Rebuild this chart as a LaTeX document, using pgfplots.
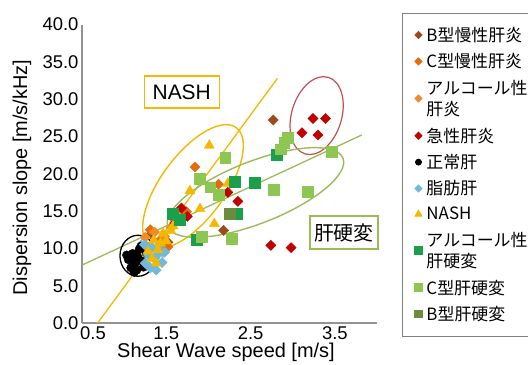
\documentclass[border=0pt]{standalone}
\usepackage{fontspec}
\setmainfont{Liberation Sans}
\newfontfamily\jp{Noto Sans CJK JP}
\usepackage{pgfplots}
\pgfplotsset{compat=1.18}
\definecolor{cBhep}{HTML}{9C4A1A}
\definecolor{cChep}{HTML}{E46C0A}
\definecolor{cAhep}{HTML}{F08C28}
\definecolor{cAcute}{HTML}{C00000}
\definecolor{cFat}{HTML}{70B8DC}
\definecolor{cNash}{HTML}{F5B800}
\definecolor{cAcir}{HTML}{1AA04A}
\definecolor{cCcir}{HTML}{8DC652}
\definecolor{cBcir}{HTML}{6E8B3D}
\definecolor{cGline}{HTML}{9BBB59}
\definecolor{cRell}{HTML}{C0504D}
\pgfplotsset{
  diam/.style={only marks, mark=square*, mark size=3.6bp, mark options={rotate=45, draw=#1, fill=#1}},
  sq/.style={only marks, mark=square*, mark size=5.4bp, mark options={draw=#1, fill=#1}},
}
\begin{document}
\begin{tikzpicture}
\begin{axis}[
  scale only axis, width=295bp, height=298.5bp,
  xmin=0.5, xmax=4.0, ymin=0, ymax=40,
  axis x line=bottom, axis y line=left,
  axis line style={-, draw=gray!85, line width=1.3bp},
  xtick={0.63,1.5,2.5,3.5}, xticklabels={0.5,1.5,2.5,3.5},
  ytick={0,5,10,15,20,25,30,35,40},
  major tick length=0pt,
  /pgf/number format/fixed, /pgf/number format/fixed zerofill,
  /pgf/number format/precision=1, /pgf/number format/assume math mode=true,
  tick label style={font=\fontsize{18.5}{20}\selectfont},
  xlabel={Shear Wave speed [m/s]}, ylabel={Dispersion slope [m/s/kHz]},
  every axis x label/.style={at={(axis description cs:0.488,-0.057)}, anchor=north, font=\fontsize{20}{22}\selectfont},
  every axis y label/.style={at={(axis description cs:-0.2034,0.487)}, rotate=90, anchor=center, font=\fontsize{20}{22}\selectfont},
  clip=false,
  legend cell align=left,
  legend image code/.code={\path[draw=none, fill=none] (-6bp,0bp) -- (6bp,0bp); \path[#1, draw=none, every mark/.append style={scale=0.7}] plot coordinates {(0bp,0bp)};},
  legend style={at={(axis description cs:1.085,1.0395)}, anchor=north west,
    draw=gray, line width=0.8bp, font=\jp\fontsize{17}{21.5}\selectfont,
    cells={anchor=west, align=left}, nodes={inner ysep=4bp, inner xsep=2bp},
    row sep=2.7bp, inner xsep=10bp, inner ysep=10bp},
]
\addplot[diam=cBhep] coordinates {(2.77,27.2) (2.18,12.4) (1.32,11.9) (1.70,14.9) (1.52,10.8)};
\addlegendentry{B型慢性肝炎}
\addplot[diam=cChep] coordinates {(1.84,20.9) (2.12,18.6) (1.74,14.9) (1.52,10.2) (1.31,12.5) (1.42,11.0) (1.60,13.8) (1.28,10.2)};
\addlegendentry{C型慢性肝炎}
\addplot[diam=cAhep] coordinates {(1.48,11.6) (1.36,12.2) (1.65,14.3) (1.44,9.6) (1.56,12.8) (1.25,11.5)};
\addlegendentry{アルコール性\\肝炎}
\addplot[diam=cAcute] coordinates {(3.11,25.5) (3.24,27.4) (3.39,27.4) (3.30,25.2) (2.35,16.3) (2.74,10.4) (2.98,10.1) (2.23,17.5) (1.68,15.4) (1.60,13.4) (1.75,14.3)};
\addlegendentry{急性肝炎}
\addplot[only marks, mark=*, mark size=4.3bp, mark options={draw=black, fill=black}] coordinates {(1.05,8.5) (1.08,7.4) (1.10,9.3) (1.13,8.0) (1.16,8.9) (1.15,7.1) (1.18,9.9) (1.21,8.3) (1.23,7.5) (1.10,8.4) (1.03,9.1) (1.20,10.3) (1.12,6.8) (1.26,9.4)};
\addlegendentry{正常肝}
\addplot[diam=cFat] coordinates {(1.25,8.0) (1.31,7.4) (1.36,8.6) (1.41,9.3) (1.33,10.1) (1.43,10.6) (1.29,9.1) (1.45,8.1) (1.38,7.1) (1.24,10.5) (1.48,9.5)};
\addlegendentry{脂肪肝}
\addplot[only marks, mark=triangle*, mark size=5.8bp, mark options={draw=cNash, fill=cNash}] coordinates {(2.01,23.8) (1.78,17.7) (1.90,15.3) (2.07,13.3) (2.23,18.7) (1.46,12.0) (1.35,11.1) (1.40,9.8) (1.50,11.0) (1.33,8.6) (1.28,9.6) (1.55,12.4) (1.43,10.7) (1.38,8.0) (1.58,13.0)};
\addlegendentry{NASH}
\addplot[sq=cAcir] coordinates {(2.31,18.9) (2.55,18.8) (2.81,22.5) (2.34,14.6) (1.86,11.2) (1.58,14.7) (1.66,13.8)};
\addlegendentry{アルコール性\\肝硬変}
\addplot[sq=cCcir] coordinates {(2.20,22.1) (1.90,19.3) (2.02,18.2) (2.12,17.2) (1.92,11.6) (2.28,11.3) (2.77,17.9) (3.18,17.6) (3.46,23.0) (2.86,23.3) (2.90,24.2) (2.94,24.8)};
\addlegendentry{C型肝硬変}
\addplot[sq=cBcir] coordinates {(2.25,14.6)};
\addlegendentry{B型肝硬変}
\addplot[cNash, line width=1.3bp, forget plot] coordinates {(0.686,0) (2.82,32.8)};
\addplot[cGline, line width=1.3bp, forget plot] coordinates {(0.508,7.8) (3.82,25.2)};
\draw[cNash, line width=1.4bp, rotate around={53.7:(axis cs:1.817,18.30)}] (axis cs:1.817,18.30) ellipse [x radius=73bp, y radius=32bp];
\draw[cRell, line width=1.2bp, rotate around={73:(axis cs:3.284,27.79)}] (axis cs:3.284,27.79) ellipse [x radius=40bp, y radius=25bp];
\draw[cGline, line width=1.4bp, rotate around={21.4:(axis cs:2.558,17.49)}] (axis cs:2.558,17.49) ellipse [x radius=94bp, y radius=31bp];
\draw[black, line width=1.3bp] (axis cs:1.164,9.01) ellipse [x radius=18bp, y radius=20.5bp];
\draw[cFat, line width=1.3bp] (axis cs:1.307,9.45) ellipse [x radius=13.5bp, y radius=16bp];
\node[draw=cNash, line width=1.4bp, fill=white, minimum width=75bp, minimum height=32bp, inner sep=0pt, font=\fontsize{21}{23}\selectfont] at (axis cs:1.683,30.94) {NASH};
\node[draw=cGline, line width=1.4bp, fill=white, minimum width=68bp, minimum height=33bp, inner sep=0pt, font=\jp\fontsize{20}{22}\selectfont] at (axis cs:3.608,12.13) {肝硬変};
\end{axis}
\pgfresetboundingbox
\path[use as bounding box] (-82bp,-42bp) rectangle (446bp,323bp);
\end{tikzpicture}
\end{document}
